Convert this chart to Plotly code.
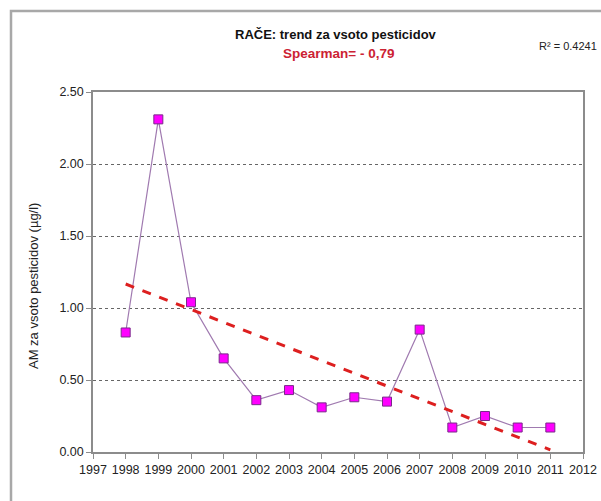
import numpy as np
import plotly.graph_objects as go

years = [1998, 1999, 2000, 2001, 2002, 2003, 2004, 2005, 2006, 2007, 2008, 2009, 2010, 2011]
values = [0.83, 2.31, 1.04, 0.65, 0.36, 0.43, 0.31, 0.38, 0.35, 0.85, 0.17, 0.25, 0.17, 0.17]
x_ticks = list(range(1997, 2013))
y_ticks = [0.0, 0.5, 1.0, 1.5, 2.0, 2.5]

title_text = "RAČE: trend za vsoto pesticidov"
spearman_text = "Spearman= - 0,79"
r2_text = "R² = 0.4241"
y_title = "AM za vsoto pesticidov (µg/l)"

FONT = "Liberation Sans, Arial, sans-serif"

slope, intercept = np.polyfit(years, values, 1)
trend_x = [years[0], years[-1]]
trend_y = [slope * x + intercept for x in trend_x]

W, H = 601, 501
L, R, T, B = 93, 18, 92, 49
PW, PH = W - L - R, H - T - B  # 490 x 360

fig = go.Figure()
fig.add_trace(go.Scatter(
    x=years, y=values, mode="lines+markers",
    line=dict(color="#a07ab0", width=1.2),
    marker=dict(symbol="square", size=9, color="#ff00ff",
                line=dict(color="#7a2a8a", width=1)),
    showlegend=False, hoverinfo="x+y",
))
fig.add_trace(go.Scatter(
    x=trend_x, y=trend_y, mode="lines",
    line=dict(color="#dd1f1f", width=3, dash="dash"),
    showlegend=False,
))

def px_y(page_y):
    return T - page_y

fig.update_layout(
    width=W, height=H,
    margin=dict(l=L, r=R, t=T, b=B, autoexpand=False),
    paper_bgcolor="white", plot_bgcolor="white",
    font=dict(family=FONT, color="#222222"),
    xaxis=dict(range=[1997, 2012], tickvals=x_ticks, ticktext=[str(v) for v in x_ticks],
               showgrid=False, zeroline=False, showline=True, linecolor="#8c8c8c", linewidth=1.5,
               mirror=True, ticks="outside", ticklen=5, tickcolor="#8c8c8c",
               tickfont=dict(size=12.5, family=FONT, color="#222222")),
    yaxis=dict(range=[0, 2.5], tickvals=y_ticks, ticktext=[f"{v:.2f}" for v in y_ticks],
               showgrid=True, gridcolor="#666666", griddash="dot", gridwidth=1,
               zeroline=False, showline=True, linecolor="#8c8c8c", linewidth=1.5,
               mirror=True, ticks="outside", ticklen=5, tickcolor="#8c8c8c",
               tickfont=dict(size=12.5, family=FONT, color="#222222")),
    annotations=[
        dict(text=f"<b>{title_text}</b>", x=0, y=1.0, xref="paper", yref="paper",
             xanchor="center", yanchor="middle", showarrow=False,
             xshift=(336 - L), yshift=px_y(34), font=dict(size=13, family=FONT, color="#111111")),
        dict(text=f"<b>{spearman_text}</b>", x=0, y=1.0, xref="paper", yref="paper",
             xanchor="center", yanchor="middle", showarrow=False,
             xshift=(338 - L), yshift=px_y(53), font=dict(size=13.5, family=FONT, color="#cc2233")),
        dict(text=r2_text, x=1.0, y=1.0, xref="paper", yref="paper",
             xanchor="right", yanchor="middle", showarrow=False,
             xshift=(599 - (W - R)), yshift=px_y(46), font=dict(size=11, family=FONT, color="#222222")),
        dict(text=y_title, x=0, y=(H - B - 286) / PH, xref="paper", yref="paper",
             xanchor="center", yanchor="middle", showarrow=False, textangle=-90,
             xshift=(33 - L), font=dict(size=13, family=FONT, color="#222222")),
    ],
    shapes=[
        dict(type="rect", xref="paper", yref="paper",
             x0=(11 - L) / PW, x1=(640 - L) / PW,
             y0=(H - B - 540) / PH, y1=1 + (T - 11) / PH,
             line=dict(color="#a8a8a8", width=2.5), fillcolor="rgba(0,0,0,0)", layer="below"),
    ],
)

fig.write_html("out.html", config={"displayModeBar": False},
               post_script="document.body.style.margin='0';document.body.style.overflow='hidden';")
